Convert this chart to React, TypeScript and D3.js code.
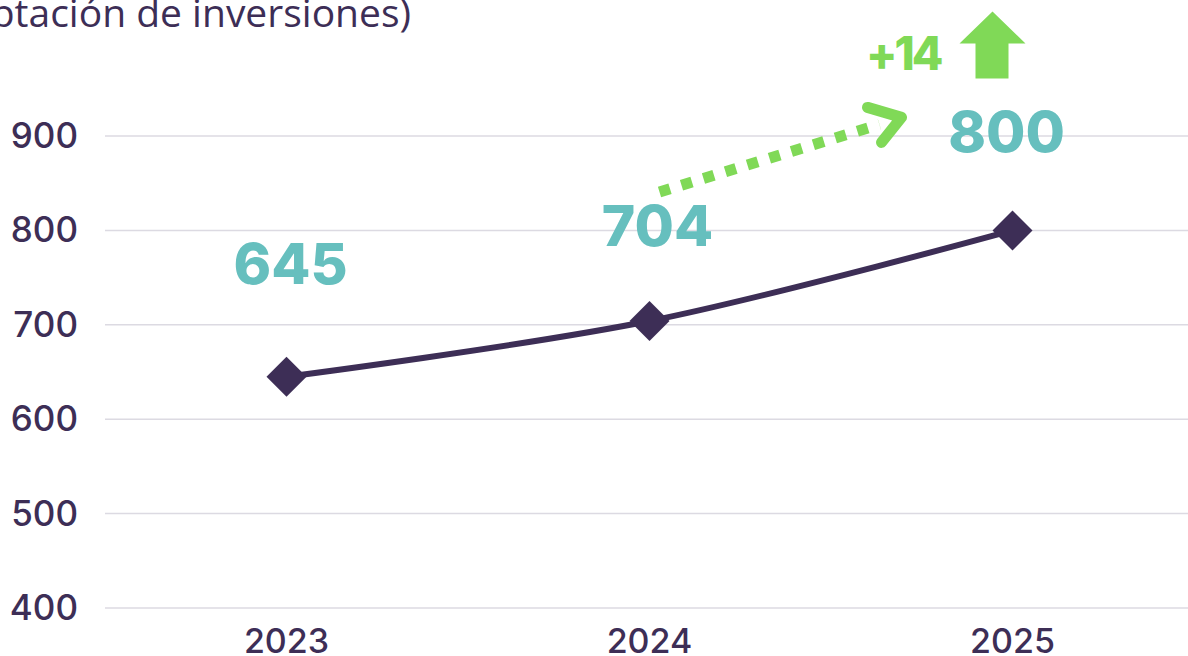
import { useEffect, useRef } from "react";
import * as d3 from "d3";

// datos del gráfico
const years = ["2023", "2024", "2025"];
const values = [645, 704, 800];
const valueLabels = ["645", "704", "800"];
const yTicks = [400, 500, 600, 700, 800, 900];
const growthLabel = "+14";
const title = "Número de proyectos (captación de inversiones)";

const W = 1188;
const H = 656;
const DARK = "#3d2e56";
const TEAL = "#66bfbe";
const GREEN = "#80d957";
const GRID = "#dcdae2";

const App = () => {
  const ref = useRef<SVGSVGElement>(null);

  useEffect(() => {
    const svg = d3.select(ref.current);
    svg.selectAll("*").remove();

    const x = d3.scaleBand().domain(years).range([105, 105 + 363 * 3]).padding(0);
    const cx = (y: string) => (x(y) || 0) + x.bandwidth() / 2;
    const y = d3.scaleLinear().domain([400, 900]).range([608, 136]);

    // título (cortado a la izquierda)
    svg.append("text")
      .attr("x", 411)
      .attr("y", 27)
      .attr("text-anchor", "end")
      .attr("font-family", "Open Sans")
      .attr("font-size", 39)
      .attr("fill", DARK)
      .text(title);

    // líneas de cuadrícula
    svg.append("g")
      .selectAll("line")
      .data(yTicks)
      .enter().append("line")
      .attr("x1", 105)
      .attr("x2", W)
      .attr("y1", d => y(d))
      .attr("y2", d => y(d))
      .attr("stroke", GRID)
      .attr("stroke-width", 1.5);

    // etiquetas eje Y
    svg.append("g")
      .selectAll("text")
      .data(yTicks)
      .enter().append("text")
      .attr("x", 78)
      .attr("y", d => y(d) + 12)
      .attr("text-anchor", "end")
      .attr("font-family", "Inter")
      .attr("font-weight", 500)
      .attr("font-size", 35)
      .attr("fill", DARK)
      .text(d => d);

    // etiquetas eje X
    svg.append("g")
      .selectAll("text")
      .data(years)
      .enter().append("text")
      .attr("x", d => cx(d))
      .attr("y", 653)
      .attr("text-anchor", "middle")
      .attr("font-family", "Inter")
      .attr("font-weight", 500)
      .attr("font-size", 34)
      .attr("fill", DARK)
      .text(d => d);

    // línea
    const line = d3.line<number>()
      .x((_, i) => cx(years[i]))
      .y(d => y(d))
      .curve(d3.curveCatmullRom.alpha(0.5));

    svg.append("path")
      .datum(values)
      .attr("d", line)
      .attr("fill", "none")
      .attr("stroke", DARK)
      .attr("stroke-width", 6);

    // marcadores rombo
    svg.append("g")
      .selectAll("path")
      .data(values)
      .enter().append("path")
      .attr("d", d3.symbol(d3.symbolSquare, 800))
      .attr("transform", (d, i) => `translate(${cx(years[i])},${y(d)}) rotate(45)`)
      .attr("fill", DARK);

    // etiquetas de valor
    const labelOffsets = [[4, -93], [8, -75], [-6, -78]];
    svg.append("g")
      .selectAll("text")
      .data(values)
      .enter().append("text")
      .attr("x", (_, i) => cx(years[i]) + labelOffsets[i][0])
      .attr("y", (d, i) => y(d) + labelOffsets[i][1])
      .attr("text-anchor", "middle")
      .attr("font-family", "Inter")
      .attr("font-weight", 800)
      .attr("font-size", 57)
      .attr("fill", TEAL)
      .text((_, i) => valueLabels[i]);

    // flecha punteada de crecimiento
    const x0 = cx("2024") + 10;
    const x1 = cx("2025") - 133;
    const y0 = y(values[1]) - 129;
    const y1 = y(values[2]) - 106;
    svg.append("line")
      .attr("x1", x0)
      .attr("y1", y0)
      .attr("x2", x1)
      .attr("y2", y1)
      .attr("stroke", GREEN)
      .attr("stroke-width", 11)
      .attr("stroke-dasharray", "11 12");

    const tipX = cx("2025") - 111;
    const tipY = y(values[2]) - 113;
    svg.append("path")
      .attr("d", `M${tipX - 34},${tipY - 10} L${tipX},${tipY} L${tipX - 20},${tipY + 25}`)
      .attr("fill", "none")
      .attr("stroke", GREEN)
      .attr("stroke-width", 11)
      .attr("stroke-linecap", "round")
      .attr("stroke-linejoin", "round");

    // texto +14
    svg.append("text")
      .attr("x", cx("2025") - 72)
      .attr("y", y(values[2]) - 160)
      .attr("text-anchor", "end")
      .attr("font-family", "Inter")
      .attr("font-weight", 800)
      .attr("font-size", 46)
      .attr("letter-spacing", -3)
      .attr("fill", GREEN)
      .text(growthLabel);

    // flecha hacia arriba
    const ax = cx("2025") - 20;
    const aTop = y(values[2]) - 219;
    svg.append("path")
      .attr("d", `M${ax},${aTop} L${ax + 33},${aTop + 32} L${ax + 16},${aTop + 32} L${ax + 16},${aTop + 67} L${ax - 17},${aTop + 67} L${ax - 17},${aTop + 32} L${ax - 33},${aTop + 32} Z`)
      .attr("fill", GREEN);
  }, []);

  return (
    <svg ref={ref} width={W} height={H} style={{ display: "block", position: "absolute", left: 0, top: 0 }} />
  );
};

export default App;
